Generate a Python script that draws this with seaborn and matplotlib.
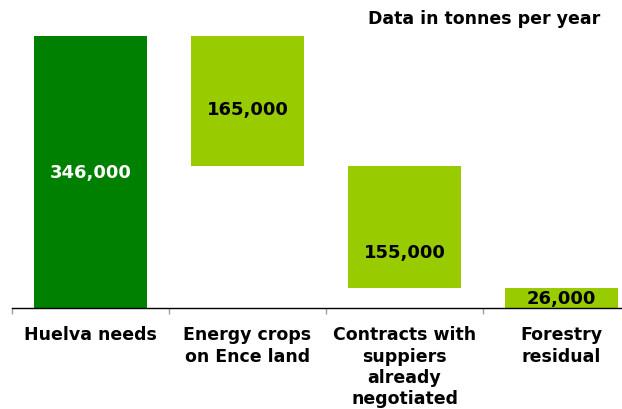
import matplotlib
matplotlib.use("Agg")
import matplotlib.pyplot as plt
import seaborn as sns

categories = ["Huelva needs", "Energy crops\non Ence land",
              "Contracts with\nsuppiers\nalready\nnegotiated", "Forestry\nresidual"]
values = [346000, 165000, 155000, 26000]
value_labels = ["346,000", "165,000", "155,000", "26,000"]
colors = ["#008000", "#99CC00", "#99CC00", "#99CC00"]
label_colors = ["white", "black", "black", "black"]

# waterfall bases: first bar from 0, others stacked downward from total
bottoms = [0]
running = values[0]
for v in values[1:]:
    running -= v
    bottoms.append(running)

sns.set_theme(style="white")
plt.rcParams["font.family"] = ["DejaVu Sans"]

fig = plt.figure(figsize=(6.22, 4.10), dpi=100)
ax = fig.add_axes([12 / 622, 101 / 410, 610 / 622, 272 / 410])

sns.barplot(x=categories, y=values, hue=categories, palette=colors,
            width=0.72, legend=False, ax=ax, saturation=1)

for p, b in zip(ax.patches, bottoms):
    p.set_y(b)
    p.set_edgecolor("none")

ax.set_ylim(0, values[0])
ax.set_xlim(-0.5, 3.385)

label_frac = [0.5, 0.44, 0.29, 0.5]
for i, (b, v, t, c, f) in enumerate(zip(bottoms, values, value_labels, label_colors, label_frac)):
    ax.text(i, b + v * f, t, ha="center", va="center", color=c,
            fontsize=13, fontweight="bold")

for s in ["top", "right", "left"]:
    ax.spines[s].set_visible(False)
ax.spines["bottom"].set_color("black")
ax.spines["bottom"].set_linewidth(1.0)
ax.set_yticks([])
ax.set_ylabel("")
ax.tick_params(axis="x", which="major", length=0, pad=12.5, labelsize=12.5)
for lab in ax.get_xticklabels():
    lab.set_fontweight("bold")
    lab.set_linespacing(1.24)
    lab.set_color("black")
minor = [k - 0.5 for k in range(len(categories))]
ax.set_xticks(minor, minor=True)
ax.tick_params(axis="x", which="minor", length=4.5, color="#A0A0A0", width=1.0, bottom=True)

fig.text(600 / 622, 1 - 19 / 410, "Data in tonnes per year", ha="right", va="center",
         fontsize=12.5, fontweight="bold", color="black")

fig.savefig("out.png", dpi=100)
